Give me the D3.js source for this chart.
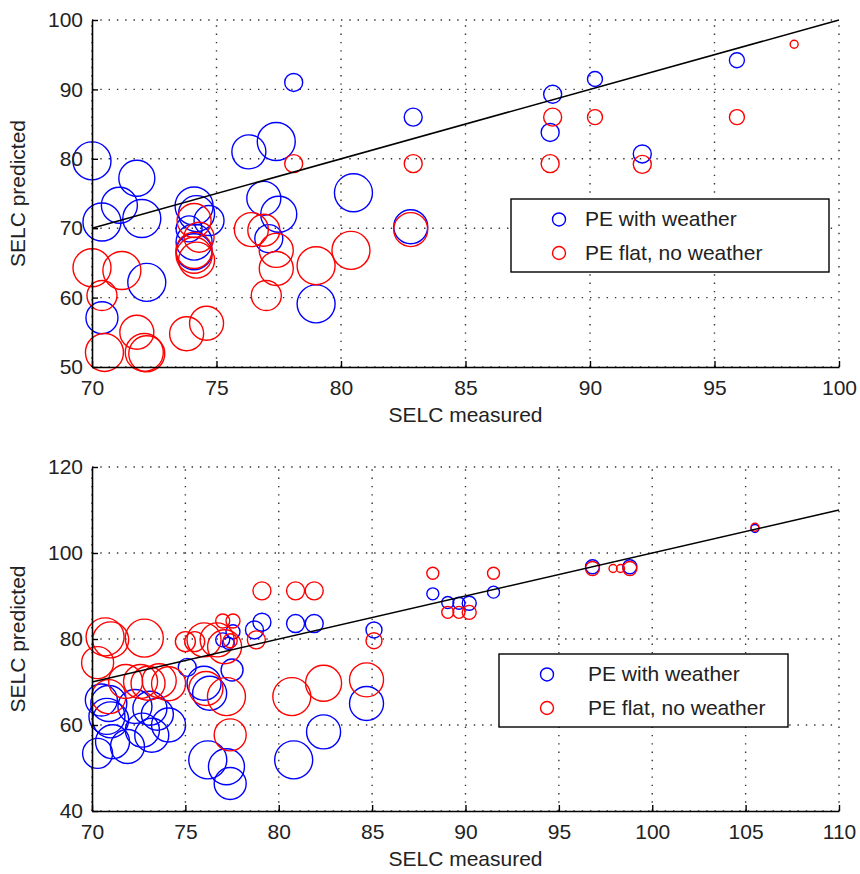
<!DOCTYPE html>
<html>
<head>
<meta charset="utf-8">
<script src="https://cdn.jsdelivr.net/npm/d3@7"></script>
<style>
  html, body { margin: 0; padding: 0; background: #fff; }
  svg { display: block; }
  text { font-family: "Liberation Sans", Arial, Helvetica, sans-serif; fill: #222; }
</style>
</head>
<body>
<svg id="chart" width="860" height="874"></svg>
<script>
// Each point: [SELC measured, SELC predicted, marker weight]
const topWithWeather = [
  [70.0, 79.7, 19], [71.8, 77.2, 18], [71.1, 73.3, 18], [70.4, 70.9, 19], [72.0, 71.4, 19],
  [72.2, 62.2, 19], [70.4, 57.1, 16], [74.1, 73.2, 19], [74.2, 72.1, 18], [74.7, 71.1, 15],
  [73.9, 69.9, 13], [74.1, 68.0, 18], [74.1, 66.6, 18], [76.3, 81.0, 17], [77.4, 82.5, 19],
  [78.1, 91.0, 9], [76.9, 74.3, 17], [77.5, 72.0, 18], [77.1, 68.5, 14], [79.0, 59.1, 19],
  [80.5, 75.1, 19], [82.8, 70.2, 17], [82.9, 86.0, 9], [88.5, 89.3, 9], [88.4, 83.8, 9],
  [90.2, 91.5, 7.5], [92.1, 80.7, 9], [95.9, 94.2, 7.5]
];
const topFlat = [
  [70.0, 64.3, 19], [71.2, 63.9, 19], [70.4, 60.3, 15], [70.5, 52.1, 19], [71.8, 55.0, 17],
  [72.1, 52.1, 19], [72.2, 51.9, 18], [73.8, 54.8, 17], [74.6, 56.3, 17], [74.1, 71.1, 17],
  [74.3, 68.7, 15], [74.1, 66.8, 18], [74.1, 66.1, 18], [74.2, 65.4, 18], [76.4, 69.8, 17],
  [76.9, 69.7, 16], [77.4, 66.8, 17], [77.4, 64.2, 17], [77.0, 60.3, 15], [79.0, 64.6, 19],
  [80.4, 66.8, 19], [78.1, 79.3, 9], [82.8, 69.8, 17], [82.9, 79.3, 9], [88.5, 86.0, 9],
  [88.4, 79.3, 9], [90.2, 86.0, 7.5], [92.1, 79.2, 9], [95.9, 86.0, 7.5], [98.2, 96.5, 4]
];
const bottomWithWeather = [
  [70.3, 53.4, 15], [71.1, 56.1, 17], [71.9, 55.0, 17], [72.7, 58.8, 17], [73.2, 57.6, 17],
  [74.1, 60.0, 17], [70.8, 62.0, 18], [71.0, 61.2, 18], [70.5, 65.8, 16], [70.9, 65.0, 18],
  [72.3, 64.3, 17], [73.1, 63.9, 17], [73.5, 62.5, 16], [75.1, 73.4, 9], [76.0, 69.7, 17],
  [76.3, 67.4, 17], [77.5, 72.8, 11], [77.0, 79.8, 7], [77.55, 81.7, 7], [77.3, 79.0, 6],
  [78.7, 82.1, 9], [79.1, 83.9, 9], [80.9, 83.6, 9], [81.9, 83.6, 9], [76.2, 51.9, 19],
  [77.2, 50.3, 18], [77.4, 46.4, 16], [80.8, 51.9, 19], [82.4, 58.4, 17], [84.7, 65.0, 17],
  [85.1, 82.1, 8], [88.25, 90.5, 6], [89.05, 88.5, 6], [89.65, 88.3, 6], [90.2, 88.3, 7],
  [91.5, 90.9, 6], [96.8, 96.8, 7], [98.8, 96.8, 7], [105.5, 105.7, 4]
];
const bottomFlat = [
  [70.7, 80.5, 19], [71.0, 79.8, 18], [72.8, 80.2, 19], [70.3, 74.5, 16], [71.8, 70.1, 17],
  [72.6, 70.1, 17], [73.0, 69.7, 17], [73.6, 70.3, 17], [74.1, 69.6, 17], [70.9, 66.6, 17],
  [75.0, 79.4, 10], [75.5, 79.4, 10], [76.0, 79.8, 17], [76.7, 79.8, 17], [77.1, 78.2, 17],
  [77.0, 84.2, 7], [77.55, 84.2, 7], [77.4, 79.6, 7], [78.8, 79.8, 9], [79.1, 91.2, 9],
  [80.9, 91.2, 9], [81.9, 91.2, 9], [76.1, 68.5, 17], [77.2, 66.6, 19], [77.4, 57.7, 16],
  [80.7, 66.6, 19], [82.4, 69.7, 18], [84.7, 70.5, 17], [85.1, 79.6, 8], [88.25, 95.3, 6],
  [89.05, 86.2, 6], [89.65, 86.2, 6], [90.2, 86.2, 7], [91.5, 95.3, 6], [96.8, 96.4, 7],
  [97.9, 96.4, 4], [98.3, 96.4, 4], [98.8, 96.4, 7], [105.5, 106.0, 4]
];

const topXTicks = [70, 75, 80, 85, 90, 95, 100];
const topYTicks = [50, 60, 70, 80, 90, 100];
const bottomXTicks = [70, 75, 80, 85, 90, 95, 100, 105, 110];
const bottomYTicks = [40, 60, 80, 100, 120];

const seriesNames = ["PE with weather", "PE flat, no weather"];
const seriesColors = ["#0000ff", "#ff0000"];
const xLabel = "SELC measured";
const yLabel = "SELC predicted";

const svg = d3.select("#chart");
const rScale = d3.scaleLinear().domain([0, 20]).range([0, 20]);

function drawPanel(cfg) {
  const x = d3.scaleLinear().domain(cfg.xDomain).range([cfg.left, cfg.right]);
  const y = d3.scaleLinear().domain(cfg.yDomain).range([cfg.bottom, cfg.top]);
  const g = svg.append("g");

  // dotted grid
  const grid = g.append("g")
    .attr("stroke", "#333").attr("stroke-width", 1.4)
    .attr("stroke-dasharray", "1.4,6.9");
  grid.selectAll("line.v").data(cfg.xTicks).join("line")
    .attr("x1", d => x(d)).attr("x2", d => x(d))
    .attr("y1", cfg.bottom).attr("y2", cfg.top);
  grid.selectAll("line.h").data(cfg.yTicks).join("line")
    .attr("x1", cfg.left).attr("x2", cfg.right)
    .attr("y1", d => y(d)).attr("y2", d => y(d));

  // markers
  [cfg.series[0], cfg.series[1]].forEach((data, i) => {
    g.append("g").selectAll("circle").data(data).join("circle")
      .attr("cx", d => x(d[0])).attr("cy", d => y(d[1]))
      .attr("r", d => rScale(d[2]))
      .attr("fill", "none").attr("stroke", seriesColors[i]).attr("stroke-width", 1.4);
  });

  // identity reference line
  g.append("line")
    .attr("x1", x(cfg.line[0])).attr("y1", y(cfg.line[0]))
    .attr("x2", x(cfg.line[1])).attr("y2", y(cfg.line[1]))
    .attr("stroke", "#000").attr("stroke-width", 1.6);

  // axes with inward ticks
  const xAxis = d3.axisBottom(x).tickValues(cfg.xTicks).tickSizeInner(-6).tickSizeOuter(0).tickPadding(13);
  const yAxis = d3.axisLeft(y).tickValues(cfg.yTicks).tickSizeInner(-6).tickSizeOuter(0).tickPadding(9);
  const gx = g.append("g").attr("transform", `translate(0,${cfg.bottom})`).call(xAxis);
  const gy = g.append("g").attr("transform", `translate(${cfg.left},0)`).call(yAxis);
  [gx, gy].forEach(a => {
    a.select(".domain").attr("stroke", "#000").attr("stroke-width", 1.6);
    a.selectAll(".tick line").attr("stroke", "#000").attr("stroke-width", 1.4);
    a.selectAll(".tick text").attr("font-size", 21).attr("fill", "#222")
      .style("font-family", '"Liberation Sans", Arial, sans-serif');
  });

  // axis titles
  g.append("text").attr("x", (cfg.left + cfg.right) / 2).attr("y", cfg.bottom + 55)
    .attr("text-anchor", "middle").attr("font-size", 21).text(xLabel);
  g.append("text")
    .attr("transform", `translate(${cfg.yTitleX},${(cfg.top + cfg.bottom) / 2}) rotate(-90)`)
    .attr("text-anchor", "middle").attr("font-size", 21).text(yLabel);

  // legend
  const L = cfg.legend;
  const lg = g.append("g");
  lg.append("rect").attr("x", L.x).attr("y", L.y).attr("width", L.w).attr("height", L.h)
    .attr("fill", "#fff").attr("stroke", "#000").attr("stroke-width", 1.4);
  seriesNames.forEach((name, i) => {
    const cy = L.y + L.h * (i === 0 ? 0.28 : 0.74);
    lg.append("circle").attr("cx", L.mx).attr("cy", cy).attr("r", 6.5)
      .attr("fill", "none").attr("stroke", seriesColors[i]).attr("stroke-width", 1.4);
    lg.append("text").attr("x", L.tx).attr("y", cy + 7).attr("font-size", 21).text(name);
  });
}

drawPanel({
  left: 92, right: 839, top: 20, bottom: 367,
  xDomain: [70, 100], yDomain: [50, 100],
  xTicks: topXTicks, yTicks: topYTicks,
  series: [topWithWeather, topFlat], line: [70, 100],
  yTitleX: 25,
  legend: { x: 511, y: 199, w: 318, h: 73, mx: 559, tx: 585 }
});

drawPanel({
  left: 92, right: 839, top: 467, bottom: 811,
  xDomain: [70, 110], yDomain: [40, 120],
  xTicks: bottomXTicks, yTicks: bottomYTicks,
  series: [bottomWithWeather, bottomFlat], line: [70, 110],
  yTitleX: 25,
  legend: { x: 499, y: 654, w: 289, h: 73, mx: 547, tx: 588 }
});
</script>
</body>
</html>
